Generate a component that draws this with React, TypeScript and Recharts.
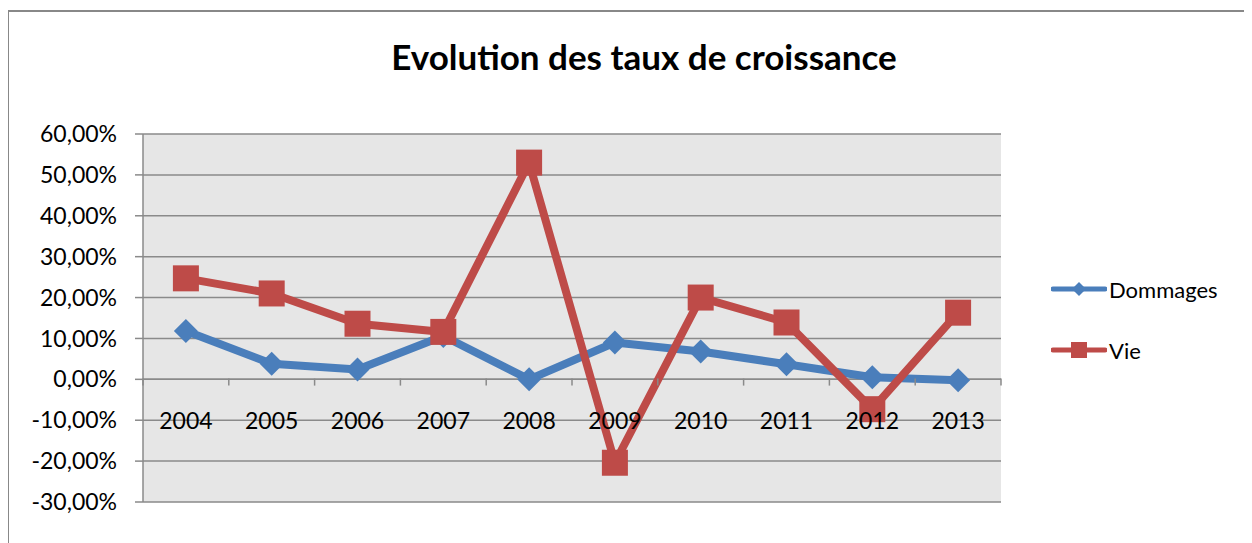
import React from "react";
import { LineChart, Line, XAxis, YAxis, CartesianGrid, ReferenceLine } from "recharts";

const years = ["2004", "2005", "2006", "2007", "2008", "2009", "2010", "2011", "2012", "2013"];
const dommages = [11.8, 3.8, 2.4, 10.6, 0.0, 9.0, 6.8, 3.7, 0.5, -0.2];
const vie = [24.7, 21.0, 13.6, 11.6, 53.0, -20.4, 20.0, 13.9, -7.3, 16.3];
const yTicks = [-30, -20, -10, 0, 10, 20, 30, 40, 50, 60];
const seriesNames = ["Dommages", "Vie"];
const seriesColors = ["#4A7EBB", "#BE4B48"];

const data = years.map((y, i) => ({ year: y, Dommages: dommages[i], Vie: vie[i] }));

const FONT = "Lato, 'Open Sans', sans-serif";
const GRID = "#8A8A8A";

const fmt = (v: number) => `${v.toFixed(2).replace(".", ",")}%`;

const Diamond = (props: any) => {
  const { cx, cy } = props;
  if (cx == null || cy == null) return null;
  const r = 12;
  return <polygon points={`${cx},${cy - r} ${cx + r},${cy} ${cx},${cy + r} ${cx - r},${cy}`} fill={seriesColors[0]} />;
};
const Square = (props: any) => {
  const { cx, cy } = props;
  if (cx == null || cy == null) return null;
  const s = 13;
  return <rect x={cx - s} y={cy - s} width={2 * s} height={2 * s} fill={seriesColors[1]} />;
};

// Offset from the tick anchor up to the zero line (domain -30..60)
const ZERO_UP = 131.4;

const XTick = (props: any) => {
  const { x, y, payload, index, visibleTicksCount } = props;
  const half = payload && payload.offset ? payload.offset : 42.9;
  const y0 = y - ZERO_UP;
  const isLast = index === (visibleTicksCount ?? years.length) - 1;
  return (
    <g>
      <line x1={x - half} x2={x - half} y1={y0} y2={y0 + 7} stroke={GRID} strokeWidth={1.5} />
      {isLast && <line x1={x + half} x2={x + half} y1={y0} y2={y0 + 7} stroke={GRID} strokeWidth={1.5} />}
      <text x={x} y={y0 + 50} textAnchor="middle" fontFamily={FONT} fontSize={23} fill="#000">
        {payload.value}
      </text>
    </g>
  );
};

const LegendBox = () => (
  <div style={{ position: "absolute", left: 1043, top: 267, fontFamily: FONT, fontSize: 22, color: "#000" }}>
    {seriesNames.map((n, i) => (
      <div key={n} style={{ display: "flex", alignItems: "center", height: 28, marginBottom: i === 0 ? 33 : 0 }}>
        <svg width={56} height={28} style={{ display: "block" }}>
          <line x1={2} x2={54} y1={14} y2={14} stroke={seriesColors[i]} strokeWidth={5} strokeLinecap="round" />
          {i === 0 ? (
            <polygon points="28,7 35,14 28,21 21,14" fill={seriesColors[i]} />
          ) : (
            <rect x={20} y={6} width={16} height={16} fill={seriesColors[i]} />
          )}
        </svg>
        <span style={{ marginLeft: 2 }}>{n}</span>
      </div>
    ))}
  </div>
);

export default function App() {
  return (
    <div style={{ position: "relative", width: 1244, height: 535, overflow: "hidden", background: "#fff" }}>
      <div
        style={{
          position: "absolute",
          left: -1,
          top: 2,
          width: 1400,
          height: 700,
          borderLeft: "2px solid #888",
          borderTop: "2px solid #888",
          boxSizing: "border-box",
        }}
      />
      <div
        style={{
          position: "absolute",
          left: 0,
          width: 1272,
          top: 27,
          textAlign: "center",
          fontFamily: FONT,
          fontWeight: 700,
          fontSize: 35,
          color: "#000",
        }}
      >
        Evolution des taux de croissance
      </div>
      <div style={{ position: "absolute", left: 0, top: 0 }}>
        <LineChart width={1244} height={535} data={data} margin={{ top: 126, right: 251, bottom: 11, left: 0 }}>
          <CartesianGrid vertical={false} horizontal={true} stroke={GRID} strokeWidth={1.5} fill="#E6E6E6" fillOpacity={1} />
          <XAxis
            dataKey="year"
            scale="band"
            axisLine={false}
            tickLine={false}
            height={30}
            tick={<XTick />}
            interval={0}
          />
          <YAxis
            domain={[-30, 60]}
            ticks={yTicks}
            tickFormatter={fmt}
            width={135}
            axisLine={{ stroke: GRID, strokeWidth: 1.5 }}
            tickLine={{ stroke: GRID, strokeWidth: 1.5 }}
            tickSize={8}
            tickMargin={18}
            tick={{ fontFamily: FONT, fontSize: 23, fill: "#000" }}
            interval={0}
          />
          <ReferenceLine y={0} stroke={GRID} strokeWidth={1.5} />
          <Line
            dataKey="Dommages"
            stroke={seriesColors[0]}
            strokeWidth={8}
            dot={<Diamond />}
            activeDot={false}
            isAnimationActive={false}
            strokeLinejoin="round"
          />
          <Line
            dataKey="Vie"
            stroke={seriesColors[1]}
            strokeWidth={8}
            dot={<Square />}
            activeDot={false}
            isAnimationActive={false}
            strokeLinejoin="round"
          />
        </LineChart>
      </div>
      <LegendBox />
    </div>
  );
}
